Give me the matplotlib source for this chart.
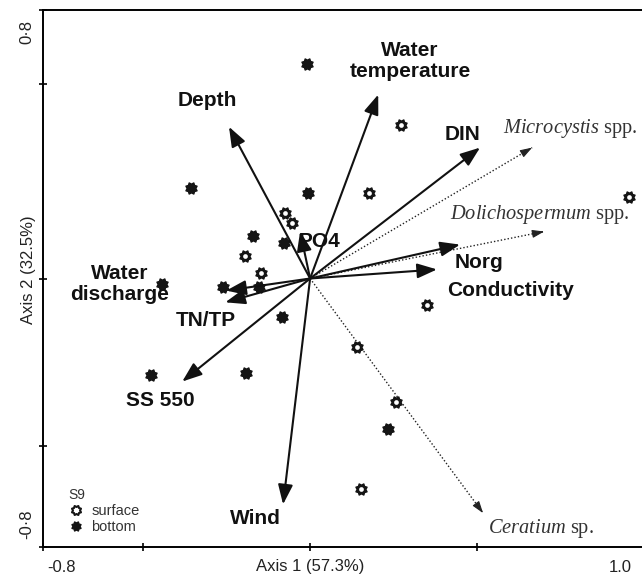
import numpy as np
import matplotlib
matplotlib.use("Agg")
import matplotlib.pyplot as plt
from matplotlib.path import Path
from matplotlib.lines import Line2D

plt.rcParams['font.family'] = ['Liberation Sans', 'DejaVu Sans']
plt.rcParams['mathtext.fontset'] = 'custom'
plt.rcParams['mathtext.it'] = 'Liberation Serif:italic'
plt.rcParams['mathtext.rm'] = 'Liberation Serif'

# ---------------- data ----------------
env_names = ["Water\ntemperature", "Depth", "PO4", "DIN", "Norg", "Conductivity",
             "Water\ndischarge", "TN/TP", "SS 550", "Wind"]
env_x = [0.204, -0.243, -0.030, 0.509, 0.449, 0.380, -0.251, -0.254, -0.383, -0.081]
env_y = [0.548, 0.452, 0.140, 0.390, 0.101, 0.027, -0.036, -0.071, -0.307, -0.673]

sp_genus = ["Microcystis", "Dolichospermum", "Ceratium"]
sp_suffix = ["spp.", "spp.", "sp."]
sp_x = [0.665, 0.701, 0.518]
sp_y = [0.390, 0.140, -0.699]

surface_x = [0.272, 0.177, -0.075, -0.054, -0.195, -0.147, 0.955, 0.350, 0.141, 0.257, 0.153]
surface_y = [0.458, 0.256, 0.196, 0.164, 0.068, 0.015, 0.244, -0.080, -0.205, -0.369, -0.628]

bottom_x = [-0.009, -0.356, -0.006, -0.171, -0.078, -0.443, -0.260, -0.153, -0.084, -0.476, -0.192, 0.234]
bottom_y = [0.640, 0.271, 0.256, 0.128, 0.107, -0.015, -0.024, -0.024, -0.116, -0.289, -0.283, -0.449]

x_label = "Axis 1 (57.3%)"
y_label = "Axis 2 (32.5%)"

# ---------------- figure ----------------
W, H = 642, 578
fig = plt.figure(figsize=(W / 100, H / 100), dpi=100)
ax = fig.add_axes([43 / W, 31 / H, (644 - 43) / W, (547 - 10) / H])
ax.set_xlim(-0.8, 1.0)
ax.set_ylim(-0.8, 0.8)

for s in ['left', 'bottom', 'top', 'right']:
    ax.spines[s].set_linewidth(1.4)
ax.set_xticks([-0.8, -0.5, 0, 0.5, 1.0])
ax.set_yticks([-0.8, -0.5, 0, 0.58, 0.8])
ax.set_xticklabels([])
ax.set_yticklabels([])
ax.tick_params(direction='inout', length=6, width=1.2, top=False, right=False)

# gear-like star marker
ang = np.linspace(0, 2 * np.pi, 17)[:-1] + np.pi / 8
rad = np.where(np.arange(16) % 2 == 0, 1.0, 0.72)
verts = np.column_stack([rad * np.cos(ang), rad * np.sin(ang)])
verts = np.vstack([verts, verts[0]])
codes = [Path.MOVETO] + [Path.LINETO] * 15 + [Path.CLOSEPOLY]
gear = Path(verts, codes)

ax.plot(bottom_x, bottom_y, linestyle='none', marker=gear, markersize=8,
        color='#151515', zorder=3)
ax.plot(surface_x, surface_y, linestyle='none', marker=gear, markersize=8,
        color='#151515', zorder=3)
ax.plot(surface_x, surface_y, linestyle='none', marker='o', markersize=3.4,
        color='white', markeredgewidth=0, zorder=4)

# environmental arrows
for x, y in zip(env_x, env_y):
    ax.annotate('', xy=(x, y), xytext=(0, 0),
                arrowprops=dict(arrowstyle='-|>,head_length=0.8,head_width=0.3',
                                mutation_scale=15, lw=1.5, color='#111111',
                                shrinkA=0, shrinkB=0), zorder=5)

# species arrows (dotted)
for x, y in zip(sp_x, sp_y):
    ax.plot([0, x], [0, y], linestyle=(0, (1, 1.5)), lw=1.0, color='#222222', zorder=2)
    ax.annotate('', xy=(x, y), xytext=(x * 0.97, y * 0.97),
                arrowprops=dict(arrowstyle='-|>,head_length=0.6,head_width=0.2',
                                mutation_scale=12, lw=0.8, color='#222222',
                                shrinkA=0, shrinkB=0), zorder=2)

# labels (figure pixel positions)
def ft(px, py, s, **kw):
    fig.text(px / W, 1 - py / H, s, **kw)

env_pos = [(410, 61), (207, 100), (320, 241), (462, 134), (479, 263), (510, 290),
           (120, 284), (206, 320), (160, 401), (255, 519)]
for name, (px, py) in zip(env_names, env_pos):
    ft(px, py, name, ha='center', va='center', fontsize=15, fontweight='bold',
       color='#111111', linespacing=1.12)

sp_pos = [(503, 128), (450, 215), (488, 528)]
for g, suf, (px, py) in zip(sp_genus, sp_suffix, sp_pos):
    ft(px, py, r'$\mathit{' + g + '}$ ' + suf, ha='left', va='center', fontsize=14.7,
       family='Liberation Serif', color='#333333')

# axis titles and end labels
ft(310, 567, x_label, ha='center', va='center', fontsize=12, color='#222222')
ft(62, 567, "-0.8", ha='center', va='center', fontsize=12, color='#222222')
ft(620, 567, "1.0", ha='center', va='center', fontsize=12, color='#222222')
ft(28, 270, y_label, ha='center', va='center', fontsize=12, rotation=90, color='#222222')
ft(27, 32, "0·8", ha='center', va='center', fontsize=12, rotation=90, color='#222222')
ft(27, 524, "-0·8", ha='center', va='center', fontsize=12, rotation=90, color='#222222')

# legend
h_surf = Line2D([], [], linestyle='none', marker=gear, markersize=6.5, color='#151515',
                markerfacecolor='white', markeredgewidth=1.5)
h_bot = Line2D([], [], linestyle='none', marker=gear, markersize=6.5, color='#151515')
leg = ax.legend([h_surf, h_bot], ['surface', 'bottom'], title='S9',
                loc='lower left', bbox_to_anchor=(58 / W, (578 - 544) / H),
                bbox_transform=fig.transFigure, frameon=False, fontsize=10.5,
                title_fontsize=10, alignment='left', handlelength=1.0,
                handletextpad=0.6, labelspacing=0.12, borderpad=0.2)
for t in leg.get_texts():
    t.set_color('#333333')
leg.get_title().set_color('#333333')

fig.savefig('out.png', dpi=100)
